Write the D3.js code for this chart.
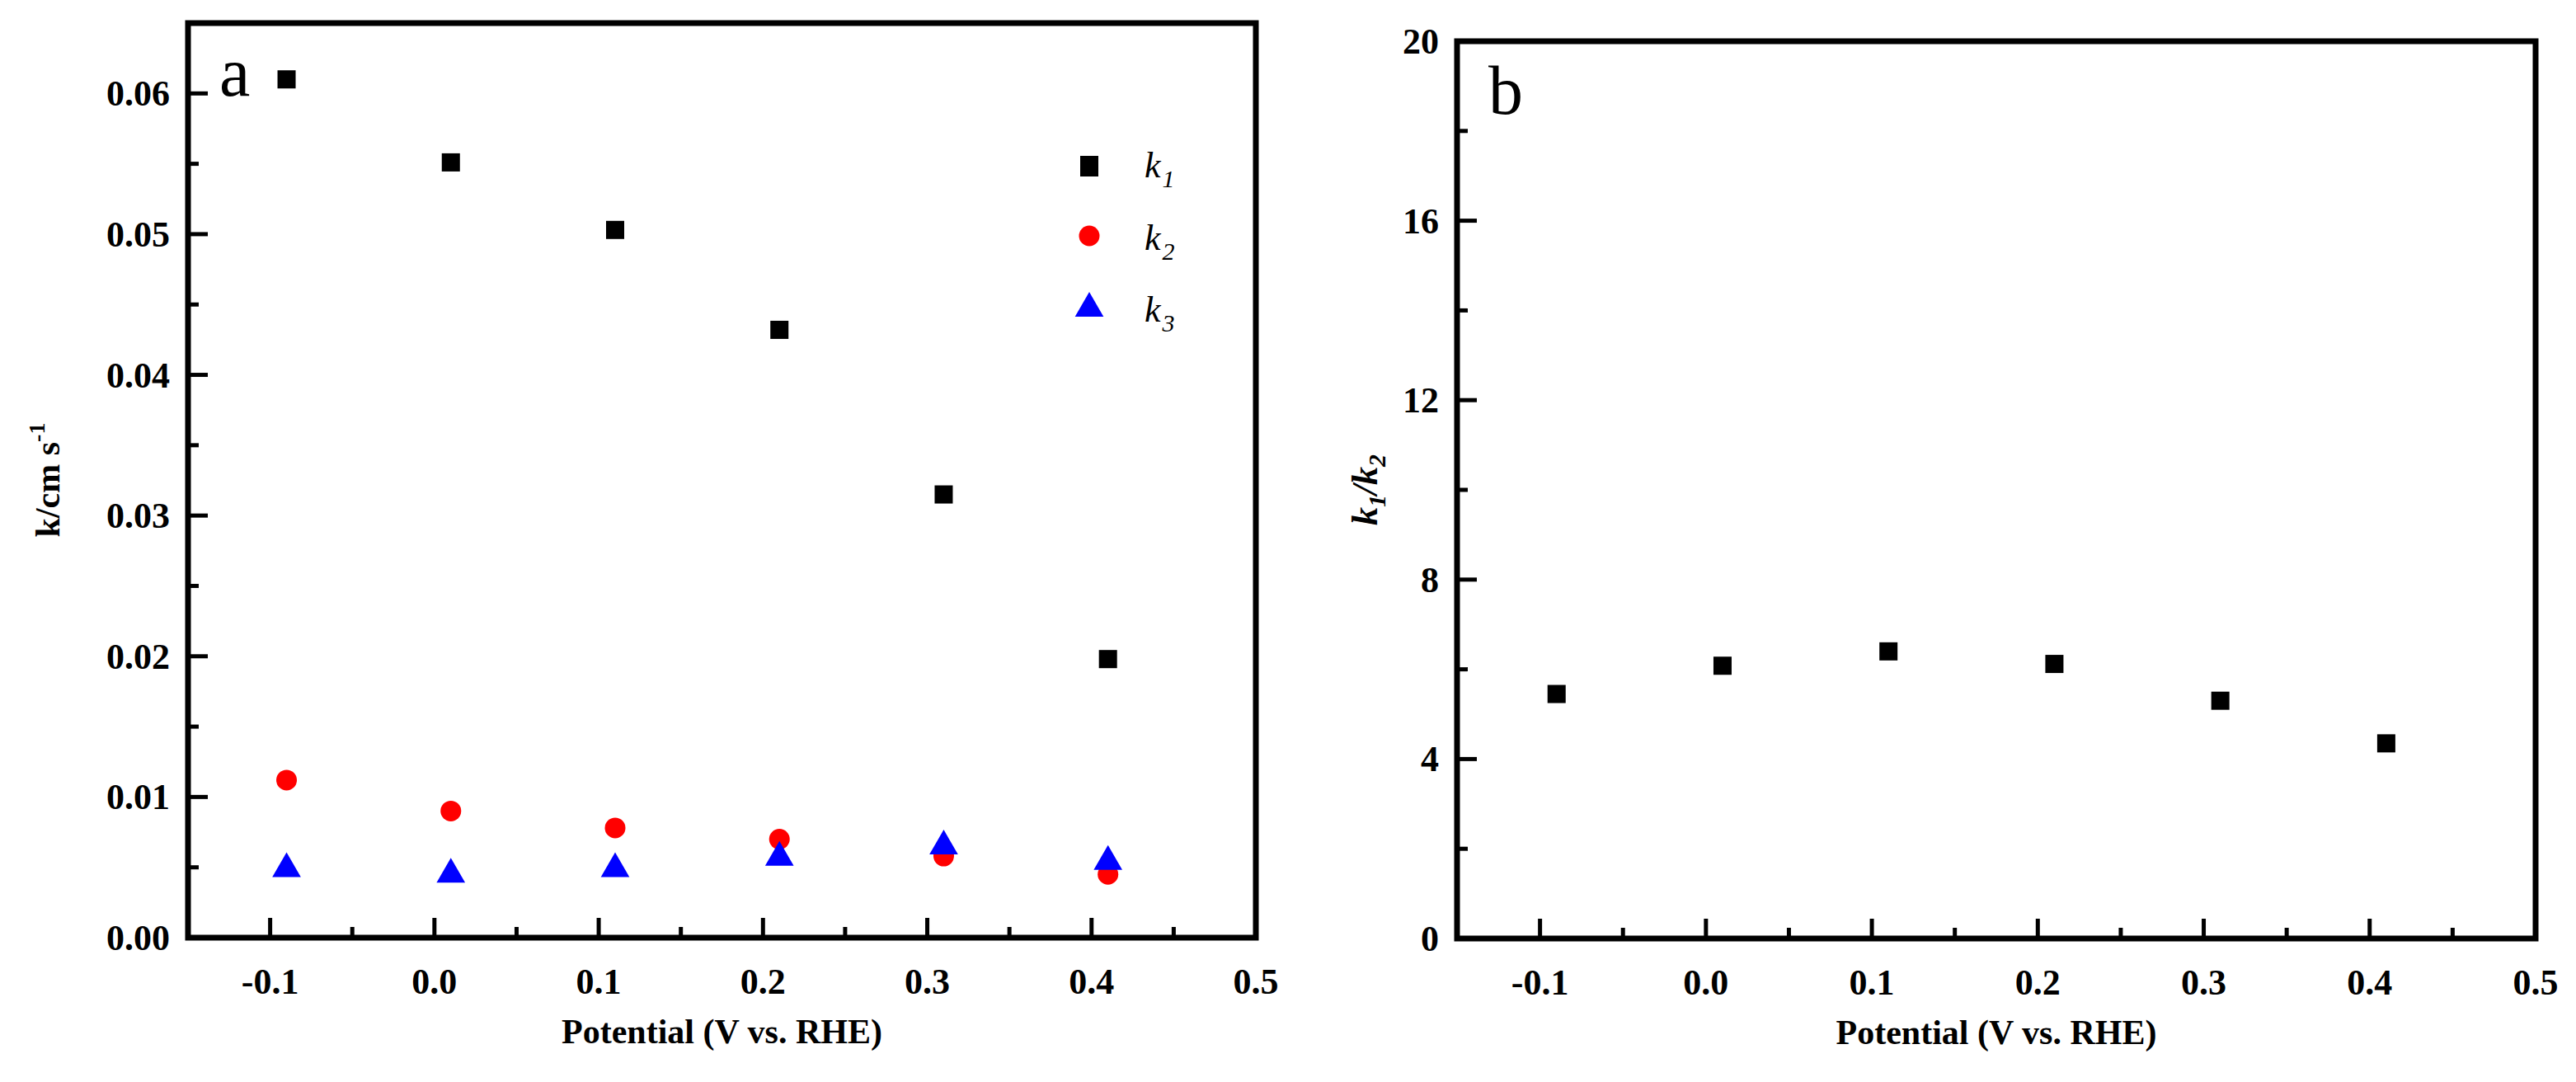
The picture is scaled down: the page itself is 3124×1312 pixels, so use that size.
<!DOCTYPE html><html><head><meta charset="utf-8">
<script src="https://cdn.jsdelivr.net/npm/d3@7"></script>
<style>body{margin:0;background:#fff}text{font-family:"Liberation Serif","Times New Roman",serif}</style></head><body>
<svg id="c" width="3124" height="1312"></svg>
<script>
const potentials=[-0.09,0.01,0.11,0.21,0.31,0.41];
const k1=[0.0610,0.0551,0.0503,0.0432,0.0315,0.0198];
const k2=[0.0112,0.0090,0.0078,0.0070,0.0058,0.0045];
const k3=[0.0049,0.0045,0.0049,0.0057,0.0065,0.0054];
const ratio=[5.45,6.08,6.40,6.12,5.30,4.35];
const xTicks=[-0.1,0.0,0.1,0.2,0.3,0.4,0.5];
const yTicksA=[0,0.01,0.02,0.03,0.04,0.05,0.06];
const yTicksB=[0,4,8,12,16,20];

const svg=d3.select("#c");
function panel(o){
  const g=svg.append("g");
  const x=d3.scaleLinear().domain([-0.15,0.5]).range([o.l,o.r]);
  const y=d3.scaleLinear().domain(o.yd).range([o.b,o.t]);
  // minor ticks
  const xm=d3.range(-0.15,0.5001,0.05).map(v=>+v.toFixed(3));
  xm.forEach(v=>{const major=xTicks.some(t=>Math.abs(t-v)<1e-6);
    g.append("line").attr("x1",x(v)).attr("x2",x(v)).attr("y1",o.b).attr("y2",o.b-(major?24:13)).attr("stroke","#000").attr("stroke-width",5);});
  const ym=d3.range(o.yd[0],o.yd[1]+1e-9,o.ystep/2);
  ym.forEach(v=>{const major=o.yt.some(t=>Math.abs(t-v)<1e-9);
    g.append("line").attr("x1",o.l).attr("x2",o.l+(major?24:13)).attr("y1",y(v)).attr("y2",y(v)).attr("stroke","#000").attr("stroke-width",5);});
  g.append("rect").attr("x",o.l).attr("y",o.t).attr("width",o.r-o.l).attr("height",o.b-o.t).attr("fill","none").attr("stroke","#000").attr("stroke-width",7);
  xTicks.forEach(v=>g.append("text").attr("x",x(v)).attr("y",o.b+68).attr("text-anchor","middle").attr("font-size",44).attr("font-weight","bold").text(v.toFixed(1)));
  o.yt.forEach(v=>g.append("text").attr("x",o.l-22).attr("y",y(v)+15).attr("text-anchor","end").attr("font-size",44).attr("font-weight","bold").text(o.fmt(v)));
  g.append("text").attr("x",(o.l+o.r)/2).attr("y",o.b+128).attr("text-anchor","middle").attr("font-size",42).attr("font-weight","bold").text("Potential (V vs. RHE)");
  g.append("text").attr("x",o.l+38).attr("y",o.t+88).attr("font-size",84).text(o.letter);
  return {g,x,y};
}
const A=panel({l:228,r:1523,t:28,b:1137,yd:[0,0.065],ystep:0.01,yt:yTicksA,fmt:v=>v.toFixed(2),letter:"a"});
const B=panel({l:1767,r:3075,t:50,b:1138,yd:[0,20],ystep:4,yt:yTicksB,fmt:v=>String(v),letter:"b"});
const sq=22,tri=d3.symbol().type(d3.symbolTriangle).size(520);
A.g.selectAll(".k1").data(potentials).join("rect").attr("x",d=>A.x(d)-sq/2).attr("y",(d,i)=>A.y(k1[i])-sq/2).attr("width",sq).attr("height",sq).attr("fill","#000");
A.g.selectAll(".k2").data(potentials).join("circle").attr("cx",d=>A.x(d)).attr("cy",(d,i)=>A.y(k2[i])).attr("r",12.5).attr("fill","#f00");
A.g.selectAll(".k3").data(potentials).join("path").attr("d",tri).attr("transform",(d,i)=>`translate(${A.x(d)},${A.y(k3[i])})`).attr("fill","#00f");
B.g.selectAll(".r").data(potentials).join("rect").attr("x",d=>B.x(d)-sq/2).attr("y",(d,i)=>B.y(ratio[i])-sq/2).attr("width",sq).attr("height",sq).attr("fill","#000");
// legend
const lg=A.g.append("g");
lg.append("rect").attr("x",1310).attr("y",189).attr("width",22).attr("height",25).attr("fill","#000");
lg.append("circle").attr("cx",1321).attr("cy",286).attr("r",12.5).attr("fill","#f00");
lg.append("path").attr("d",tri).attr("transform","translate(1321,374)").attr("fill","#00f");
[["1",215],["2",303],["3",390]].forEach(([s,yy])=>{
  const t=lg.append("text").attr("x",1388).attr("y",yy).attr("font-size",44).attr("font-style","italic").attr("font-family","Liberation Sans, Arial").text("k");
  t.append("tspan").attr("font-size",30).attr("dy",12).attr("dx",2).text(s);
});
// y labels
const ya=svg.append("text").attr("transform","translate(72,582) rotate(-90)").attr("text-anchor","middle").attr("font-size",42).attr("font-weight","bold").text("k/cm s");
ya.append("tspan").attr("font-size",28).attr("dy",-18).text("-1");
const yb=svg.append("text").attr("transform","translate(1670,594) rotate(-90)").attr("text-anchor","middle").attr("font-size",44).attr("font-weight","bold").attr("font-style","italic");
yb.append("tspan").text("k");yb.append("tspan").attr("font-size",30).attr("dy",10).text("1");
yb.append("tspan").attr("dy",-10).text("/k");yb.append("tspan").attr("font-size",30).attr("dy",10).text("2");
</script></body></html>
